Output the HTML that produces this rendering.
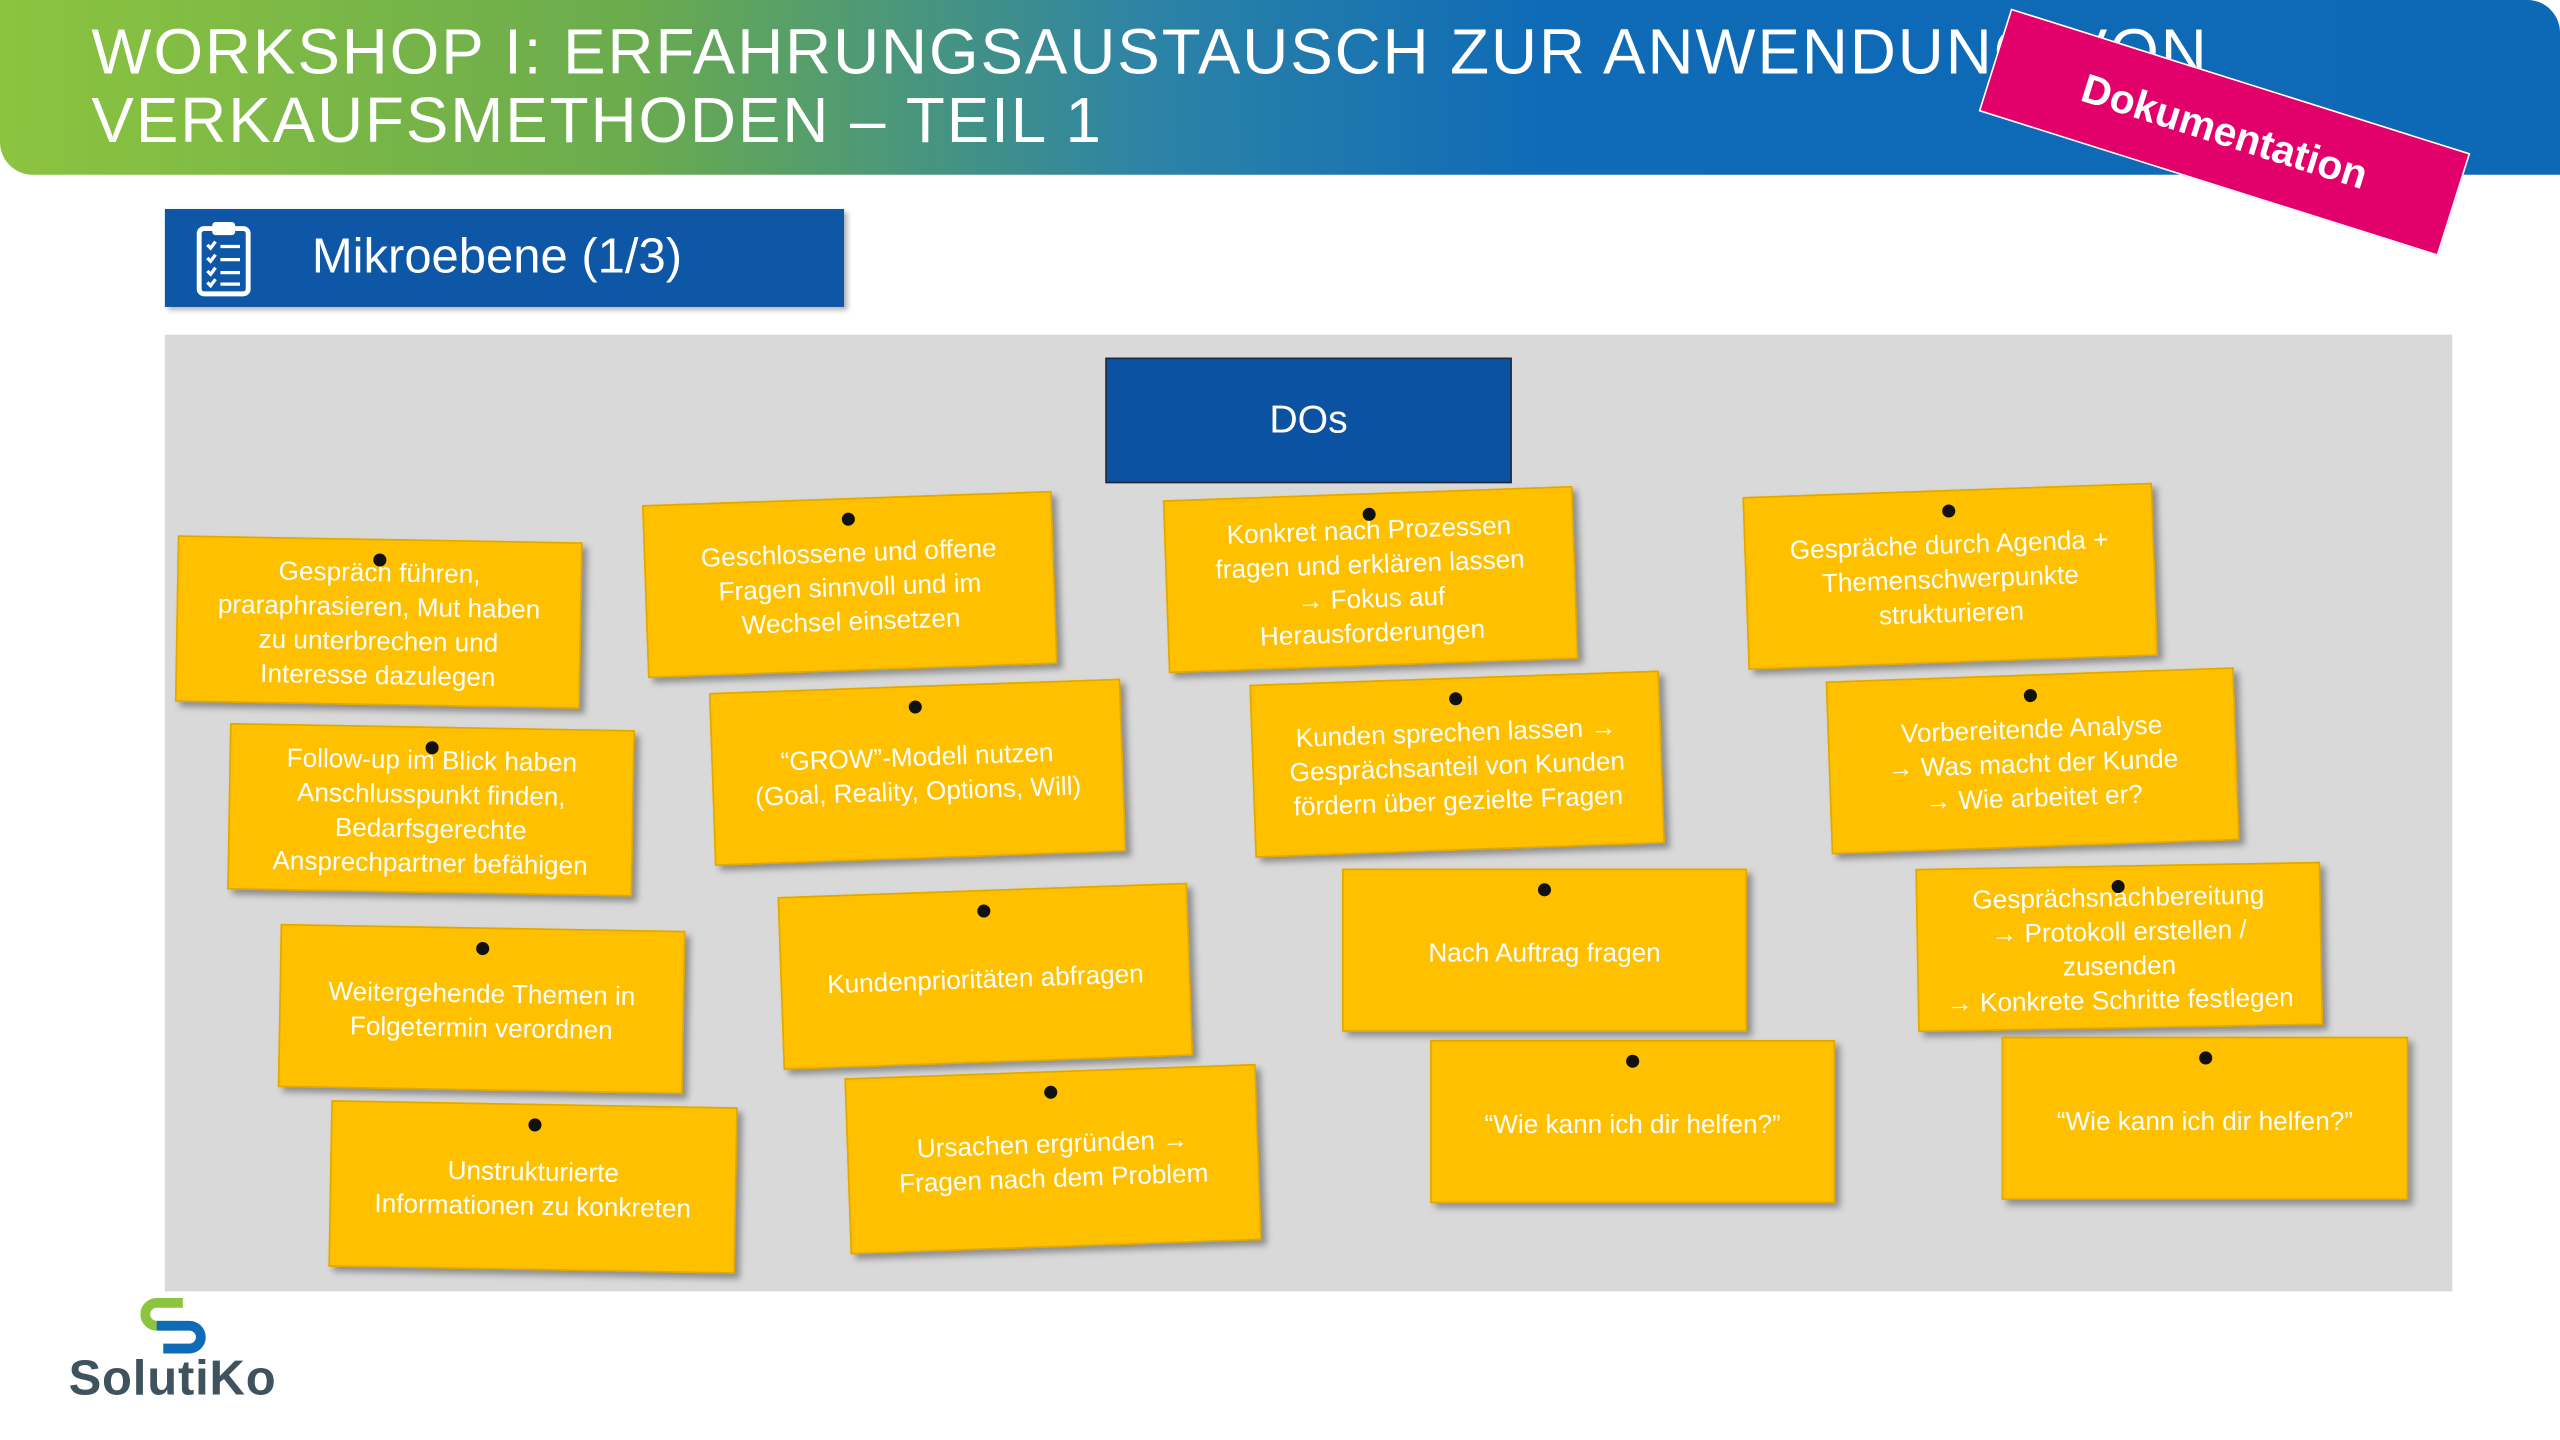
<!DOCTYPE html>
<html><head><meta charset="utf-8"><style>
html,body{margin:0;padding:0;background:#fff;}
body{width:2560px;height:1440px;overflow:hidden;position:relative;font-family:"Liberation Sans",sans-serif;}
#s{position:absolute;left:0;top:0;width:1568px;height:882px;transform:scale(1.63265);transform-origin:0 0;}
.hdr{position:absolute;left:0;top:0;width:1568px;height:107px;border-radius:0 20px 0 20px;background:linear-gradient(90deg,#8cc43f 0%,#6aab4e 25%,#2c83a6 45%,#0f6bb6 60%,#0d69b5 100%);}
.title{position:absolute;left:56px;top:12px;color:#fff;font-size:39px;line-height:42px;letter-spacing:1.2px;font-weight:300;white-space:nowrap;}
.badge{position:absolute;left:1215px;top:48px;width:293px;height:64px;background:#e2006a;border:1.5px solid #fff;transform:rotate(17.5deg);color:#fff;font-weight:bold;font-size:25px;text-align:center;line-height:64px;}
.mikro{position:absolute;left:101px;top:128px;width:416px;height:60px;background:#0d57a6;box-shadow:2px 2px 3px rgba(0,0,0,.3);color:#fff;font-size:30px;line-height:60px;}
.panel{position:absolute;left:101px;top:205px;width:1401px;height:586px;background:#d9d9d9;}
.dos{position:absolute;left:677px;top:219px;width:247px;height:75px;background:#0b52a3;border:1.5px solid #1d2a44;color:#fff;font-size:24px;text-align:center;line-height:75px;}
.n{position:absolute;background:#ffc000;box-shadow:3px 3px 4px rgba(0,0,0,.35);color:#fff;font-size:16px;line-height:21px;text-align:center;display:flex;align-items:center;justify-content:center;box-sizing:border-box;padding:8px 2px 4px;border:1px solid #e0a800;white-space:nowrap;}
.n::before{content:"";position:absolute;left:50%;top:8px;width:8px;height:8px;margin-left:-4px;border-radius:50%;background:#111;}
.logo{position:absolute;left:42px;top:828px;color:#3e535d;font-size:30px;font-weight:bold;letter-spacing:0.5px;}
</style></head><body><div id="s">
<div class="hdr"></div>
<div class="title">WORKSHOP I: ERFAHRUNGSAUSTAUSCH ZUR ANWENDUNG VON<br>VERKAUFSMETHODEN – TEIL 1</div>
<div class="badge">Dokumentation</div>
<div class="mikro"><svg style="position:absolute;left:18px;top:6px" width="36" height="48" viewBox="0 0 36 48"><rect x="3" y="6" width="30" height="40" rx="3" fill="none" stroke="#fff" stroke-width="3"/><rect x="11" y="2" width="14" height="8" rx="2" fill="#fff"/><g stroke="#fff" stroke-width="2"><line x1="16" y1="17" x2="28" y2="17"/><line x1="16" y1="25" x2="28" y2="25"/><line x1="16" y1="33" x2="28" y2="33"/><line x1="16" y1="40" x2="28" y2="40"/><path d="M8 16l2 2 3-4M8 24l2 2 3-4M8 32l2 2 3-4M8 39l2 2 3-4" fill="none"/></g></svg><span style="position:absolute;left:90px">Mikroebene (1/3)</span></div>
<div class="panel"></div>
<div class="dos">DOs</div>

<div class="n" style="left:108px;top:330px;width:248px;height:102px;transform:rotate(1deg)">Gespräch führen,<br>praraphrasieren, Mut haben<br>zu unterbrechen und<br>Interesse dazulegen</div>
<div class="n" style="left:395px;top:305px;width:251px;height:106px;transform:rotate(-2deg)">Geschlossene und offene<br>Fragen sinnvoll und im<br>Wechsel einsetzen</div>
<div class="n" style="left:714px;top:302px;width:251px;height:106px;transform:rotate(-2deg)">Konkret nach Prozessen<br>fragen und erklären lassen<br>→ Fokus auf<br>Herausforderungen</div>
<div class="n" style="left:1069px;top:300px;width:251px;height:106px;transform:rotate(-2deg)">Gespräche durch Agenda +<br>Themenschwerpunkte<br>strukturieren</div>
<div class="n" style="left:140px;top:445px;width:248px;height:102px;transform:rotate(1deg)">Follow-up im Blick haben<br>Anschlusspunkt finden,<br>Bedarfsgerechte<br>Ansprechpartner befähigen</div>
<div class="n" style="left:436px;top:420px;width:252px;height:106px;transform:rotate(-2deg)">“GROW”-Modell nutzen<br>(Goal, Reality, Options, Will)</div>
<div class="n" style="left:767px;top:415px;width:251px;height:106px;transform:rotate(-2deg)">Kunden sprechen lassen →<br>Gesprächsanteil von Kunden<br>fördern über gezielte Fragen</div>
<div class="n" style="left:1120px;top:413px;width:250px;height:106px;transform:rotate(-2deg)">Vorbereitende Analyse<br>→ Was macht der Kunde<br>→ Wie arbeitet er?</div>
<div class="n" style="left:171px;top:568px;width:248px;height:100px;transform:rotate(1deg)">Weitergehende Themen in<br>Folgetermin verordnen</div>
<div class="n" style="left:478px;top:545px;width:251px;height:106px;transform:rotate(-2deg)">Kundenprioritäten abfragen</div>
<div class="n" style="left:822px;top:532px;width:248px;height:100px">Nach Auftrag fragen</div>
<div class="n" style="left:1174px;top:530px;width:248px;height:100px;transform:rotate(-1deg)">Gesprächsnachbereitung<br>→ Protokoll erstellen /<br>zusenden<br>→ Konkrete Schritte festlegen</div>
<div class="n" style="left:202px;top:676px;width:249px;height:102px;transform:rotate(1deg)">Unstrukturierte<br>Informationen zu konkreten</div>
<div class="n" style="left:519px;top:656px;width:252px;height:108px;transform:rotate(-2deg)">Ursachen ergründen →<br>Fragen nach dem Problem</div>
<div class="n" style="left:876px;top:637px;width:248px;height:100px">“Wie kann ich dir helfen?”</div>
<div class="n" style="left:1226px;top:635px;width:249px;height:100px">“Wie kann ich dir helfen?”</div>

<svg style="position:absolute;left:84px;top:794px" width="46" height="36" viewBox="0 0 46 36"><path d="M28 4H12a7 7 0 0 0 0 14h12" fill="none" stroke="#8cc43f" stroke-width="6"/><path d="M12 18h20a7 7 0 0 1 0 14H16" fill="none" stroke="#0f6bb6" stroke-width="6"/></svg>
<div class="logo">SolutiKo</div>
</div></body></html>
